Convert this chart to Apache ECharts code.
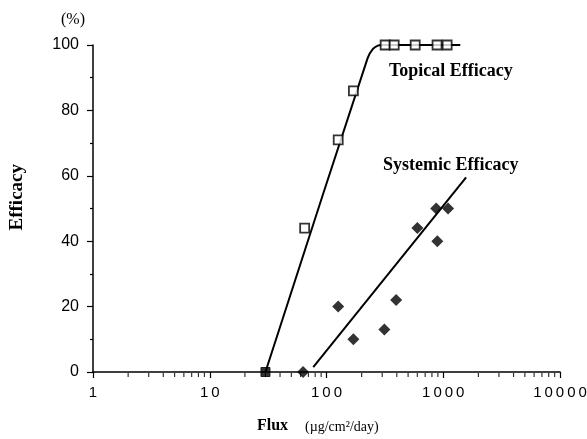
<!DOCTYPE html>
<html>
<head>
<meta charset="utf-8">
<script src="https://cdn.jsdelivr.net/npm/echarts@6/dist/echarts.min.js"></script>
<style>
  html, body { margin: 0; padding: 0; background: #fff; }
  #chart { width: 587px; height: 439px; }
</style>
</head>
<body>
<div id="chart"></div>
<script>
// data
const topicalFlux = [30, 65, 126, 170, 318, 380, 575, 885, 1080];
const topicalEff = [0, 44, 71, 86, 100, 100, 100, 100, 100];
const systemicFlux = [63, 126, 170, 313, 395, 600, 870, 890, 1100];
const systemicEff = [0, 20, 10, 13, 22, 44, 50, 40, 50];
// fitted curves drawn in the figure
const topicalFitFlux = [30, 225, 250, 275, 300, 1400];
const topicalFitEff = [0, 96, 98.8, 99.8, 100, 100];
const systemicFitFlux = [77, 1570];
const systemicFitEff = [1.5, 59.5];
// axis ticks
const xDecades = [1, 10, 100, 1000];
const minorSteps = [2, 3, 4, 5, 6, 7, 8, 9];

const pair = (xs, ys) => xs.map((x, i) => [x, ys[i]]);
const minorTicks = [];
xDecades.forEach(d => minorSteps.forEach(m => minorTicks.push([d * m, 0])));

const serif = '"Liberation Serif", "DejaVu Serif", serif';
const sans = '"Liberation Sans", Arial, sans-serif';

const chart = echarts.init(document.getElementById('chart'));
const option = {
  animation: false,
  grid: { left: 93, right: 27, top: 45, bottom: 67, outerBoundsMode: 'none', containLabel: false },
  xAxis: {
    type: 'log',
    logBase: 10,
    min: 1,
    max: 10000,
    axisLine: { lineStyle: { color: '#000', width: 1.5 } },
    axisTick: { show: true, length: 6, inside: false, lineStyle: { color: '#000', width: 1.2 } },
    axisLabel: {
      color: '#000', fontFamily: sans, fontSize: 15, margin: 13,
      // the scan shows the digits widely spaced
      formatter: v => String(v).split('').join('\u2009')
    },
    splitLine: { show: false }
  },
  yAxis: {
    type: 'value',
    min: 0,
    max: 100,
    interval: 20,
    axisLine: { show: true, lineStyle: { color: '#000', width: 1.5 } },
    axisTick: { show: true, length: 6, lineStyle: { color: '#000', width: 1.2 } },
    minorTick: { show: true, splitNumber: 2, length: 3, lineStyle: { color: '#000', width: 1.2 } },
    axisLabel: { color: '#000', fontFamily: sans, fontSize: 16, margin: 14 },
    splitLine: { show: false }
  },
  graphic: [
    { type: 'text', left: 61, top: 12, style: { text: '(%)', font: '16px ' + serif, fill: '#000' } },
    { type: 'text', left: 8, top: 164, rotation: Math.PI / 2,
      style: { text: 'Efficacy', font: 'bold 19px ' + serif, fill: '#000' } },
    { type: 'text', left: 257, top: 418, style: { text: 'Flux', font: 'bold 16px ' + serif, fill: '#000' } },
    { type: 'text', left: 305, top: 420, style: { text: '(\u00b5g/cm\u00b2/day)', font: '14px ' + serif, fill: '#000' } },
    { type: 'text', left: 389, top: 62, style: { text: 'Topical Efficacy', font: 'bold 18px ' + serif, fill: '#000' } },
    { type: 'text', left: 383, top: 156, style: { text: 'Systemic Efficacy', font: 'bold 18px ' + serif, fill: '#000' } }
  ],
  series: [
    {
      type: 'line',
      data: pair(topicalFitFlux, topicalFitEff),
      showSymbol: false,
      smooth: 0.3,
      lineStyle: { color: '#000', width: 2 },
      silent: true
    },
    {
      type: 'line',
      data: pair(systemicFitFlux, systemicFitEff),
      showSymbol: false,
      lineStyle: { color: '#000', width: 2 },
      silent: true
    },
    {
      type: 'scatter',
      data: pair(topicalFlux, topicalEff).map((p, i) => ({
        value: p,
        itemStyle: i === 0
          ? { color: '#000', borderColor: '#000', borderWidth: 1 }
          : { color: '#fff', borderColor: '#000', borderWidth: 1.8 }
      })),
      symbol: 'rect',
      symbolSize: 9,
      clip: false,
      z: 5
    },
    {
      type: 'scatter',
      data: pair(systemicFlux, systemicEff),
      symbol: 'diamond',
      symbolSize: 12,
      itemStyle: { color: '#000' },
      clip: false,
      z: 5
    },
    {
      // minor ticks of the log axis at 2..9 in each decade
      type: 'scatter',
      data: minorTicks,
      symbol: 'rect',
      symbolSize: [1.2, 4],
      symbolOffset: [0, 3],
      itemStyle: { color: '#000' },
      clip: false,
      silent: true,
      z: 1
    }
  ]
};
chart.setOption(option);
</script>
</body>
</html>
